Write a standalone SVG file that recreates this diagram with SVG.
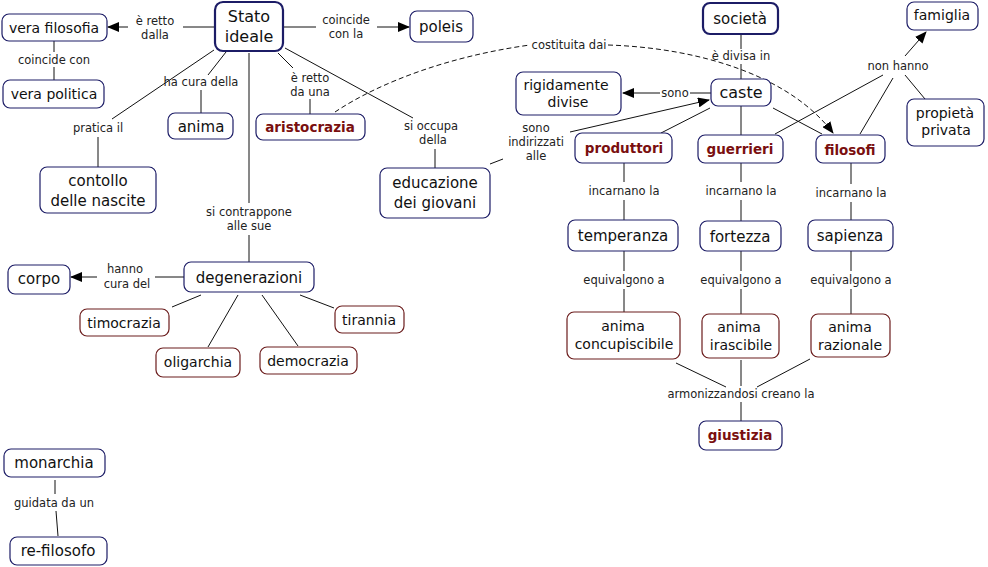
<svg xmlns="http://www.w3.org/2000/svg" width="988" height="567" viewBox="0 0 988 567">
<defs>
<style>
.n rect{fill:#fff;stroke:#1c1c66;stroke-width:1.2}
.n.r rect{stroke:#6b1c1c}
.n.m rect{stroke-width:2.2}
.n text{font-family:"DejaVu Sans",Verdana,sans-serif;font-size:15px;fill:#111;text-anchor:middle}
.n text.b{font-weight:bold;font-size:13.5px;fill:#7a0f0f}
.l{font-family:"DejaVu Sans",Verdana,sans-serif;font-size:11.5px;fill:#222;text-anchor:middle}
#edges line,#edges path{stroke:#111;stroke-width:1;fill:none}
#edges .a{marker-end:url(#ah)}
#edges .d{stroke-dasharray:5,3}
</style>
<marker id="ah" markerWidth="12" markerHeight="10" refX="11" refY="5" orient="auto" markerUnits="userSpaceOnUse">
<path d="M0,0 L12,5 L0,10 Z" fill="#000"/>
</marker>
</defs>
<rect width="988" height="567" fill="#fff"/>

<g id="edges">
<line x1="215" y1="27" x2="183" y2="27"/>
<line class="a" x1="128" y1="27" x2="108" y2="27"/>
<line x1="283" y1="27" x2="316" y2="27"/>
<line class="a" x1="377" y1="27" x2="409" y2="27"/>
<line x1="54" y1="41" x2="54" y2="52"/>
<line x1="54" y1="67" x2="54" y2="80"/>
<line x1="226" y1="52" x2="208" y2="75"/>
<line x1="201" y1="90" x2="201" y2="113"/>
<line x1="214" y1="50" x2="112" y2="119"/>
<line x1="98" y1="137" x2="98" y2="167"/>
<line x1="278" y1="53" x2="293" y2="68"/>
<line x1="310" y1="99" x2="310" y2="114"/>
<line x1="285" y1="48" x2="413" y2="118"/>
<line x1="435" y1="149" x2="435" y2="168"/>
<line x1="249" y1="53" x2="249" y2="203"/>
<line x1="249" y1="235" x2="249" y2="262"/>
<line x1="184" y1="277" x2="155" y2="277"/>
<line class="a" x1="97" y1="277" x2="71" y2="277"/>
<line x1="201" y1="295" x2="172" y2="307"/>
<line x1="238" y1="295" x2="208" y2="347"/>
<line x1="262" y1="295" x2="298" y2="346"/>
<line x1="300" y1="295" x2="334" y2="308"/>
<line x1="55" y1="480" x2="55" y2="494"/>
<line x1="56" y1="511" x2="58" y2="536"/>
<path class="d" d="M335,112 C380,82 450,56 530,45"/>
<path class="d a" d="M608,45 C700,48 790,76 833,133"/>
<line x1="741" y1="34" x2="741" y2="49"/>
<line x1="741" y1="64" x2="741" y2="79"/>
<line x1="711" y1="93" x2="690" y2="93"/>
<line class="a" x1="660" y1="93" x2="623" y2="93"/>
<line x1="710" y1="108" x2="661" y2="133"/>
<line x1="741" y1="106" x2="741" y2="135"/>
<line x1="773" y1="108" x2="822" y2="134"/>
<line x1="490" y1="164" x2="503" y2="159"/>
<line class="a" x1="570" y1="132" x2="709" y2="100"/>
<line x1="775" y1="134" x2="883" y2="75"/>
<line x1="860" y1="134" x2="893" y2="78"/>
<line x1="925" y1="99" x2="905" y2="75"/>
<line class="a" x1="905" y1="56" x2="926" y2="32"/>
<line x1="624" y1="163" x2="624" y2="182"/>
<line x1="624" y1="200" x2="624" y2="220"/>
<line x1="741" y1="163" x2="741" y2="182"/>
<line x1="741" y1="200" x2="741" y2="221"/>
<line x1="851" y1="163" x2="851" y2="184"/>
<line x1="851" y1="202" x2="851" y2="220"/>
<line x1="624" y1="251" x2="624" y2="271"/>
<line x1="624" y1="289" x2="624" y2="312"/>
<line x1="741" y1="251" x2="741" y2="271"/>
<line x1="741" y1="289" x2="741" y2="314"/>
<line x1="851" y1="251" x2="851" y2="271"/>
<line x1="851" y1="289" x2="851" y2="314"/>
<line x1="676" y1="363" x2="726" y2="387"/>
<line x1="741" y1="360" x2="741" y2="386"/>
<line x1="810" y1="359" x2="757" y2="387"/>
<line x1="741" y1="402" x2="741" y2="421"/>
</g>

<g id="labels">
<text class="l" x="155" y="25">è retto</text>
<text class="l" x="155" y="39">dalla</text>
<text class="l" x="346" y="24">coincide</text>
<text class="l" x="346" y="38">con la</text>
<text class="l" x="54" y="64">coincide con</text>
<text class="l" x="201" y="86">ha cura della</text>
<text class="l" x="98" y="132">pratica il</text>
<text class="l" x="310" y="82">è retto</text>
<text class="l" x="310" y="96">da una</text>
<text class="l" x="431" y="130">si occupa</text>
<text class="l" x="433" y="144">della</text>
<text class="l" x="249" y="216">si contrappone</text>
<text class="l" x="249" y="230">alle sue</text>
<text class="l" x="125" y="273">hanno</text>
<text class="l" x="127" y="288">cura del</text>
<text class="l" x="54" y="507">guidata da un</text>
<text class="l" x="569" y="49">costituita dai</text>
<text class="l" x="741" y="60">è divisa in</text>
<text class="l" x="675" y="97">sono</text>
<text class="l" x="536" y="132">sono</text>
<text class="l" x="536" y="146">indirizzati</text>
<text class="l" x="536" y="160">alle</text>
<text class="l" x="898" y="70">non hanno</text>
<text class="l" x="624" y="195">incarnano la</text>
<text class="l" x="741" y="195">incarnano la</text>
<text class="l" x="851" y="197">incarnano la</text>
<text class="l" x="624" y="284">equivalgono a</text>
<text class="l" x="741" y="284">equivalgono a</text>
<text class="l" x="851" y="284">equivalgono a</text>
<text class="l" x="741" y="398">armonizzandosi creano la</text>
</g>

<g id="stato" class="n m"><rect x="215" y="2" width="68" height="49" rx="8"/><text x="249" y="22" style="font-size:16px">Stato</text><text x="249" y="42" style="font-size:16px">ideale</text></g>
<g id="verafilosofia" class="n"><rect x="2" y="14" width="105" height="27" rx="7"/><text x="54" y="33" style="font-size:14px">vera filosofia</text></g>
<g id="poleis" class="n"><rect x="410" y="11" width="63" height="31" rx="7"/><text x="441" y="32">poleis</text></g>
<g id="verapolitica" class="n"><rect x="3" y="80" width="101" height="28" rx="7"/><text x="54" y="99" style="font-size:14px">vera politica</text></g>
<g id="anima" class="n"><rect x="168" y="113" width="65" height="26" rx="7"/><text x="201" y="132">anima</text></g>
<g id="aristocrazia" class="n"><rect x="256" y="114" width="109" height="26" rx="7"/><text class="b" x="310" y="132">aristocrazia</text></g>
<g id="contollo" class="n"><rect x="40" y="167" width="116" height="46" rx="7"/><text x="98" y="186">contollo</text><text x="98" y="206">delle nascite</text></g>
<g id="educazione" class="n"><rect x="380" y="168" width="110" height="50" rx="7"/><text x="435" y="188">educazione</text><text x="435" y="208">dei giovani</text></g>
<g id="degenerazioni" class="n"><rect x="184" y="262" width="130" height="30" rx="7"/><text x="249" y="283">degenerazioni</text></g>
<g id="corpo" class="n"><rect x="8" y="265" width="62" height="29" rx="7"/><text x="39" y="284">corpo</text></g>
<g id="timocrazia" class="n r"><rect x="80" y="309" width="89" height="27" rx="7"/><text x="124" y="328" style="font-size:14px">timocrazia</text></g>
<g id="oligarchia" class="n r"><rect x="156" y="348" width="84" height="29" rx="7"/><text x="198" y="367" style="font-size:14px">oligarchia</text></g>
<g id="democrazia" class="n r"><rect x="260" y="347" width="97" height="27" rx="7"/><text x="308" y="366" style="font-size:14px">democrazia</text></g>
<g id="tirannia" class="n r"><rect x="335" y="306" width="69" height="27" rx="7"/><text x="369" y="325" style="font-size:14px">tirannia</text></g>
<g id="monarchia" class="n"><rect x="4" y="449" width="101" height="28" rx="7"/><text x="54" y="468">monarchia</text></g>
<g id="refilosofo" class="n"><rect x="10" y="537" width="97" height="28" rx="7"/><text x="58" y="556">re-filosofo</text></g>
<g id="societa" class="n m"><rect x="703" y="3" width="75" height="31" rx="7"/><text x="740" y="24">società</text></g>
<g id="famiglia" class="n"><rect x="907" y="2" width="71" height="28" rx="7"/><text x="942" y="20" style="font-size:14px">famiglia</text></g>
<g id="rigidamente" class="n"><rect x="516" y="72" width="105" height="43" rx="7"/><text x="566" y="90" style="font-size:14px">rigidamente</text><text x="568" y="107" style="font-size:14px">divise</text></g>
<g id="caste" class="n"><rect x="711" y="79" width="60" height="27" rx="7"/><text x="741" y="98" style="font-size:16px">caste</text></g>
<g id="propieta" class="n"><rect x="907" y="99" width="77" height="47" rx="7"/><text x="945" y="118" style="font-size:14px">propietà</text><text x="946" y="135" style="font-size:14px">privata</text></g>
<g id="produttori" class="n"><rect x="575" y="133" width="97" height="30" rx="7"/><text class="b" x="624" y="153">produttori</text></g>
<g id="guerrieri" class="n"><rect x="698" y="135" width="85" height="28" rx="7"/><text class="b" x="740" y="154">guerrieri</text></g>
<g id="filosofi" class="n"><rect x="816" y="135" width="69" height="28" rx="7"/><text class="b" x="850" y="155">filosofi</text></g>
<g id="temperanza" class="n"><rect x="568" y="220" width="110" height="31" rx="7"/><text x="623" y="241">temperanza</text></g>
<g id="fortezza" class="n"><rect x="700" y="221" width="81" height="30" rx="7"/><text x="740" y="242">fortezza</text></g>
<g id="sapienza" class="n"><rect x="808" y="220" width="85" height="31" rx="7"/><text x="850" y="241">sapienza</text></g>
<g id="concupiscibile" class="n r"><rect x="567" y="312" width="113" height="47" rx="7"/><text x="623" y="331" style="font-size:14px">anima</text><text x="624" y="349" style="font-size:14px">concupiscibile</text></g>
<g id="irascibile" class="n r"><rect x="702" y="314" width="77" height="44" rx="7"/><text x="739" y="332" style="font-size:14px">anima</text><text x="741" y="350" style="font-size:14px">irascibile</text></g>
<g id="razionale" class="n r"><rect x="811" y="314" width="79" height="43" rx="7"/><text x="850" y="332" style="font-size:14px">anima</text><text x="850" y="350" style="font-size:14px">razionale</text></g>
<g id="giustizia" class="n"><rect x="699" y="421" width="83" height="29" rx="7"/><text class="b" x="740" y="440">giustizia</text></g>
</svg>
